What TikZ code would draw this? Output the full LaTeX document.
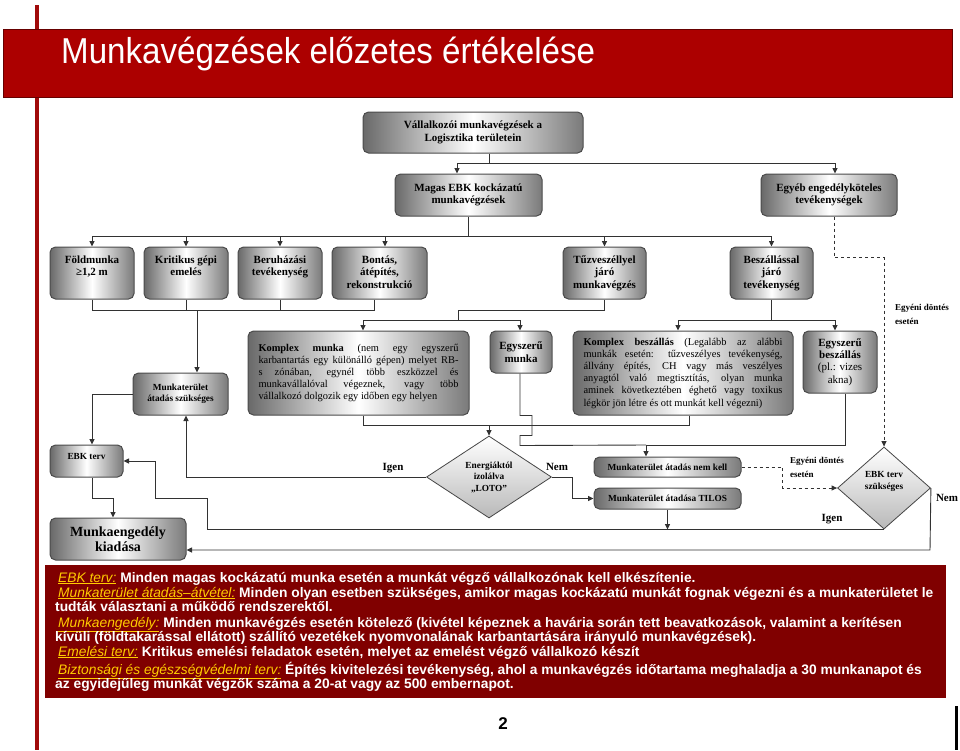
\documentclass[tikz,border=0pt]{standalone}
\usepackage{fontspec}
\setmainfont{Liberation Serif}
\newfontfamily\sanstitle[FakeStretch=0.92]{Liberation Sans}
\newfontfamily\sansplain{Liberation Sans}
\usetikzlibrary{shapes.geometric,arrows.meta,calc}
\definecolor{titlered}{RGB}{172,0,0}
\definecolor{barred}{RGB}{160,10,10}
\definecolor{footred}{RGB}{128,0,0}
\definecolor{footgold}{RGB}{255,204,0}
\definecolor{linegray}{RGB}{50,50,50}
\definecolor{boxedge}{RGB}{75,75,75}
\definecolor{shadeL}{RGB}{105,105,105}
\definecolor{shadeR}{RGB}{122,122,122}
\newcommand\flowB{\bfseries\fontsize{11}{12.5}\selectfont}
\newcommand\flowS{\bfseries\fontsize{9.3}{11.5}\selectfont}
\newcommand\flowR{\fontsize{10.4}{12.2}\selectfont}
\newcommand\fnlab[1]{{\mdseries\itshape\color{footgold}\underline{#1}}}
\begin{document}
\begin{tikzpicture}[x=1pt,y=-1pt,
  gbox/.style={draw=boxedge, line width=1pt, rounded corners=5.5pt, left color=shadeL, right color=shadeR, middle color=white, inner sep=0pt, align=center, font=\flowB},
  rowtext/.style={anchor=north, yshift=-9pt, align=center, font=\flowB, inner sep=0pt},
  dmd/.style={diamond, draw=gray!55!black, line width=0.8pt, top color=white, bottom color=gray!55, inner sep=0pt, aspect=1.5, align=center, font=\flowS},
  ln/.style={draw=linegray, line width=0.9pt},
  arr/.style={-{Triangle[length=5.5pt,width=5pt]}},
  lbl/.style={font=\bfseries\fontsize{11}{13}\selectfont, inner sep=0pt},
  slbl/.style={font=\bfseries\fontsize{9}{14}\selectfont, inner sep=0pt, align=left, anchor=north west},
  fn/.style={anchor=base west, inner sep=0pt, text=white, font=\sansplain\bfseries\fontsize{13.8}{15}\selectfont}
]
\useasboundingbox (0,0) rectangle (960,750);
% page decoration
\fill[barred] (35,5) rectangle (39,750);
\fill[titlered, draw=black!60!red, line width=0.8pt] (3,29) rectangle (952,97);
\node[anchor=base west, inner sep=0pt, text=white, font=\sanstitle\fontsize{36}{40}\selectfont] (title) at (61,63) {Munkavégzések előzetes értékelése};

% boxes
\node[gbox, minimum width=220, minimum height=41] (top) at (473,132.5) {Vállalkozói munkavégzések a\\Logisztika területein};
\node[gbox, minimum width=147, minimum height=42] (magas) at (468.5,195) {Magas EBK kockázatú\\munkavégzések};
\node[gbox, minimum width=136, minimum height=42] (egyeb) at (829,195) {Egyéb engedélyköteles\\tevékenységek};

\node[gbox, minimum width=84, minimum height=52] (fold) at (92,273) {};
\node[rowtext] (foldt) at (fold.north) {Földmunka\\≥1,2 m};
\node[gbox, minimum width=84, minimum height=52] (krit) at (186,273) {};
\node[rowtext] (kritt) at (krit.north) {Kritikus gépi\\emelés};
\node[gbox, minimum width=84, minimum height=52] (beru) at (280,273) {};
\node[rowtext] (berut) at (beru.north) {Beruházási\\tevékenység};
\node[gbox, minimum width=95, minimum height=52] (bont) at (379.5,273) {};
\node[rowtext] (bontt) at (bont.north) {Bontás,\\átépítés,\\rekonstrukció};
\node[gbox, minimum width=83, minimum height=52] (tuz) at (604.5,273) {};
\node[rowtext] (tuzt) at (tuz.north) {Tűzveszéllyel\\járó\\munkavégzés};
\node[gbox, minimum width=83, minimum height=52] (besz) at (771.5,273) {};
\node[rowtext] (beszt) at (besz.north) {Beszállással\\járó\\tevékenység};

\node[gbox, minimum width=95, minimum height=42, font=\flowS] (mterulet) at (180.5,394) {Munkaterület\\átadás szükséges};
\node[gbox, minimum width=221, minimum height=84, text width=200, align=justify, font=\flowR] (komplex) at (358.5,373) {\textbf{Komplex munka} (nem egy egyszerű\linebreak karbantartás egy különálló gépen) melyet RB-\linebreak s zónában, egynél több eszközzel és\linebreak munkavállalóval végeznek, vagy több\linebreak vállalkozó dolgozik egy időben egy helyen};
\node[gbox, minimum width=62, minimum height=42] (egysz) at (521,352) {Egyszerű\\munka};
\node[gbox, minimum width=220, minimum height=84, text width=199, align=justify, font=\flowR] (kbesz) at (683,373) {\textbf{Komplex beszállás} (Legalább az alábbi\linebreak munkák esetén: tűzveszélyes tevékenység,\linebreak állvány építés, CH vagy más veszélyes\linebreak anyagtól való megtisztítás, olyan munka\linebreak aminek következtében éghető vagy toxikus\linebreak légkör jön létre és ott munkát kell végezni)};
\node[gbox, minimum width=74, minimum height=62, font=\fontsize{11}{12.4}\selectfont] (ebesz) at (840,362) {\textbf{Egyszerű}\\\textbf{beszállás}\\(pl.: vizes\\akna)};

\node[gbox, minimum width=73, minimum height=32] (ebk) at (86.5,461) {};
\node[rowtext, font=\flowS, yshift=0pt] (ebkt) at (ebk.north) {EBK terv};
\node[gbox, minimum width=136, minimum height=42, font=\bfseries\fontsize{14}{15.5}\selectfont] (mengedely) at (118,539) {Munkaengedély\\kiadása};
\node[gbox, minimum width=147, minimum height=20, font=\flowS] (nemkell) at (667.5,467) {Munkaterület átadás nem kell};
\node[gbox, minimum width=147, minimum height=21, font=\flowS] (tilos) at (667.5,498.5) {Munkaterület átadása TILOS};

\node[dmd, minimum width=125, minimum height=82] (loto) at (489,477) {Energiáktól\\izolálva\\„LOTO”};
\node[dmd, minimum width=93, minimum height=82] (ebkd) at (884,488) {EBK terv\\szükséges\\[4pt]};

% connectors
\coordinate (j1) at (489,163);
\draw[ln] ([xshift=16pt]top.south) -- (j1);
\draw[ln,arr] (j1) -| ([xshift=-11.5pt]magas.north);
\draw[ln,arr] (j1) -| ([xshift=6pt]egyeb.north);

\coordinate (j2) at (468.5,236);
\draw[ln] (magas.south) -- (j2);
\draw[ln,arr] (j2) -| (fold.north);
\draw[ln,arr] (j2) -| (krit.north);
\draw[ln,arr] (j2) -| (beru.north);
\draw[ln,arr] (j2) -| ([xshift=5.5pt]bont.north);
\draw[ln,arr] (j2) -| (tuz.north);
\draw[ln,arr] (j2) -| (besz.north);

\coordinate (j3) at (197,310);
\draw[ln] (fold.south) |- (j3);
\draw[ln] (krit.south) |- (j3);
\draw[ln] (beru.south) |- (j3);
\draw[ln] ([xshift=-5.5pt]bont.south) |- (j3);
\draw[ln,arr] (j3) -- (j3 |- mterulet.north);

\coordinate (j4) at (458,310);
\coordinate (j5) at (458,320);
\draw[ln] (tuz.south) |- (j4) -- (j5);
\draw[ln,arr] (j5) -| ([xshift=4.5pt]komplex.north);
\draw[ln,arr] (j5) -| ([xshift=-1pt]egysz.north);

\coordinate (j6) at (771.5,320);
\draw[ln] (besz.south) -- (j6);
\draw[ln,arr] (j6) -| ([xshift=-5pt]kbesz.north);
\draw[ln,arr] (j6) -| ([xshift=-5pt]ebesz.north);

\draw[ln,dashed,arr] ([xshift=5pt]egyeb.south) -- ++(0,41) -| (ebkd.north);

\coordinate (j7) at (489,425);
\draw[ln] ([xshift=4.5pt]komplex.south) |- (j7);
\draw[ln] ([xshift=6pt]kbesz.south) |- (j7);
\draw[ln,arr] (j7) -- (loto.north);

\coordinate (j8) at (646,445);
\draw[ln] ([xshift=-1pt]egysz.south) -- ++(0,42) -- ++(12,0) -- ++(0,20) -- ++(-12,0) -- ++(0,10) -- (j8);
\draw[ln] ([xshift=5pt]ebesz.south) |- (j8);
\draw[ln,arr] (j8) -- (j8 |- nemkell.north);

\draw[ln,arr] (loto.west) -| ([xshift=5.5pt]mterulet.south);
\draw[ln,arr] (mterulet.west) -| ([xshift=5.5pt]ebk.north);
\draw[ln,arr] ([xshift=5.5pt]ebk.south) -- ++(0,21) -| ([xshift=-5pt]mengedely.north);

\draw[ln,arr] (loto.east) -- ++(21,0) |- (tilos.west);
\draw[ln,arr] (tilos.south) -- ++(0,20);

\coordinate (k1) at (207,498);
\coordinate (k2) at (155,461);
\draw[ln,arr] (ebkd.south) -| (k1) -| (k2) -- (ebk.east);

\draw[ln,dashed,arr] (nemkell.east) -- ++(41,0) |- (ebkd.west);

\coordinate (k3) at (930,550);
\draw[ln,arr] (ebkd.east) -- (k3) -- (k3 -| mengedely.east);

% labels
\node[lbl] (igen1) at (393,468) {Igen};
\node[lbl] (nem1) at (557,467) {Nem};
\node[lbl] (igen2) at (832,519) {Igen};
\node[lbl] (nem2) at (947,498) {Nem};
\node[slbl] (egy1) at (895,304) {Egyéni döntés\\esetén};
\node[slbl] (egy2) at (790,457) {Egyéni döntés\\esetén};

% footnote box
\fill[footred] (45,565) rectangle (946,698);
\node[fn] (f1) at (58,582) {\fnlab{EBK terv:} Minden magas kockázatú munka esetén a munkát végző vállalkozónak kell elkészítenie.};
\node[fn] (f2) at (58,597) {\fnlab{Munkaterület átadás–átvétel:} Minden olyan esetben szükséges, amikor magas kockázatú munkát fognak végezni és a munkaterületet le};
\node[fn] (f3) at (55,611) {tudták választani a működő rendszerektől.};
\node[fn] (f4) at (58,627) {\fnlab{Munkaengedély:} Minden munkavégzés esetén kötelező (kivétel képeznek a havária során tett beavatkozások, valamint a kerítésen};
\node[fn] (f5) at (55,641) {kívüli (földtakarással ellátott) szállító vezetékek nyomvonalának karbantartására irányuló munkavégzések).};
\node[fn] (f6) at (58,656) {\fnlab{Emelési terv:} Kritikus emelési feladatok esetén, melyet az emelést végző vállalkozó készít};
\node[fn] (f7) at (58,674) {\fnlab{Biztonsági és egészségvédelmi terv:} Építés kivitelezési tevékenység, ahol a munkavégzés időtartama meghaladja a 30 munkanapot és};
\node[fn] (f8) at (55,688) {az egyidejűleg munkát végzők száma a 20-at vagy az 500 embernapot.};

\node[font=\sansplain\bfseries\fontsize{17}{20}\selectfont, inner sep=0pt] (pnum) at (503,724) {2};
\fill[black] (955,706) rectangle (958,750);
\end{tikzpicture}
\end{document}
